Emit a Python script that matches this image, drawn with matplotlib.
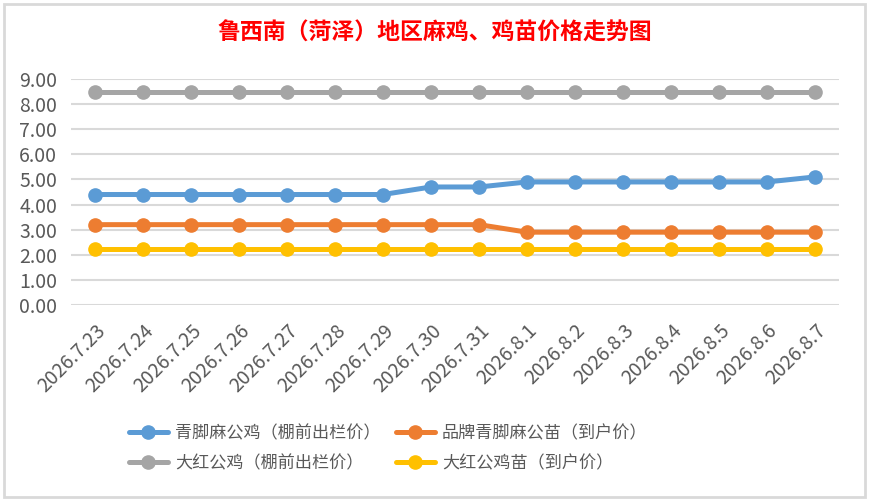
import matplotlib.pyplot as plt
from matplotlib.patches import Rectangle

plt.rcParams['font.family'] = ['Noto Sans CJK SC', 'DejaVu Sans']

# dates on the x axis
dates = ["2026.7.23", "2026.7.24", "2026.7.25", "2026.7.26", "2026.7.27",
         "2026.7.28", "2026.7.29", "2026.7.30", "2026.7.31", "2026.8.1",
         "2026.8.2", "2026.8.3", "2026.8.4", "2026.8.5", "2026.8.6", "2026.8.7"]

# prices per series
qingjiao_ji = [4.4, 4.4, 4.4, 4.4, 4.4, 4.4, 4.4, 4.7, 4.7, 4.9, 4.9, 4.9, 4.9, 4.9, 4.9, 5.1]
pinpai_miao = [3.2, 3.2, 3.2, 3.2, 3.2, 3.2, 3.2, 3.2, 3.2, 2.9, 2.9, 2.9, 2.9, 2.9, 2.9, 2.9]
dahong_ji = [8.5] * 16
dahong_miao = [2.25] * 16

series = [
    ("青脚麻公鸡（棚前出栏价）", qingjiao_ji, "#5B9BD5"),
    ("品牌青脚麻公苗（到户价）", pinpai_miao, "#ED7D31"),
    ("大红公鸡（棚前出栏价）", dahong_ji, "#A5A5A5"),
    ("大红公鸡苗（到户价）", dahong_miao, "#FFC000"),
]

fig = plt.figure(figsize=(8.7, 5.01), dpi=100)
ax = fig.add_axes([71 / 870, 1 - 305 / 501, 768 / 870, 226 / 501])

x = list(range(len(dates)))
lines = []
for label, vals, color in series:
    ln, = ax.plot(x, vals, color=color, lw=3.6, marker="o", markersize=9.5,
                  label=label, solid_capstyle="round")
    lines.append(ln)

ax.set_xlim(-0.5, len(dates) - 0.5)
ax.set_ylim(0, 9)
ax.set_yticks([i for i in range(10)])
ax.set_yticklabels([f"{i:.2f}" for i in range(10)])
ax.set_xticks(x)
ax.set_xticklabels(dates, rotation=45, ha="right", rotation_mode="anchor")
ax.grid(axis="y", color="#D9D9D9", lw=1.5)
ax.set_axisbelow(True)
for s in ax.spines.values():
    s.set_visible(False)
ax.tick_params(length=0, labelsize=14, colors="#595959", pad=10)
ax.tick_params(axis="x", pad=11)

fig.text(0.5, 1 - 33 / 501, "鲁西南（菏泽）地区麻鸡、鸡苗价格走势图",
         color="red", fontsize=16.5, fontweight="bold", ha="center", va="center")

# legend is filled row by row in the reference
order = [lines[0], lines[2], lines[1], lines[3]]
fig.legend(order, [l.get_label() for l in order],
           loc="center", bbox_to_anchor=(388 / 870, 1 - 448 / 501), ncol=2,
           frameon=False, fontsize=12.3, labelcolor="#595959",
           handlelength=2.3, handletextpad=0.4, columnspacing=0.9,
           labelspacing=0.7)

# chart border
fig.patches.append(Rectangle((4 / 870, 4 / 501), 861 / 870, 493 / 501,
                             transform=fig.transFigure, fill=False,
                             edgecolor="#D9D9D9", lw=2))

plt.savefig("out.png", dpi=100)
plt.close()
